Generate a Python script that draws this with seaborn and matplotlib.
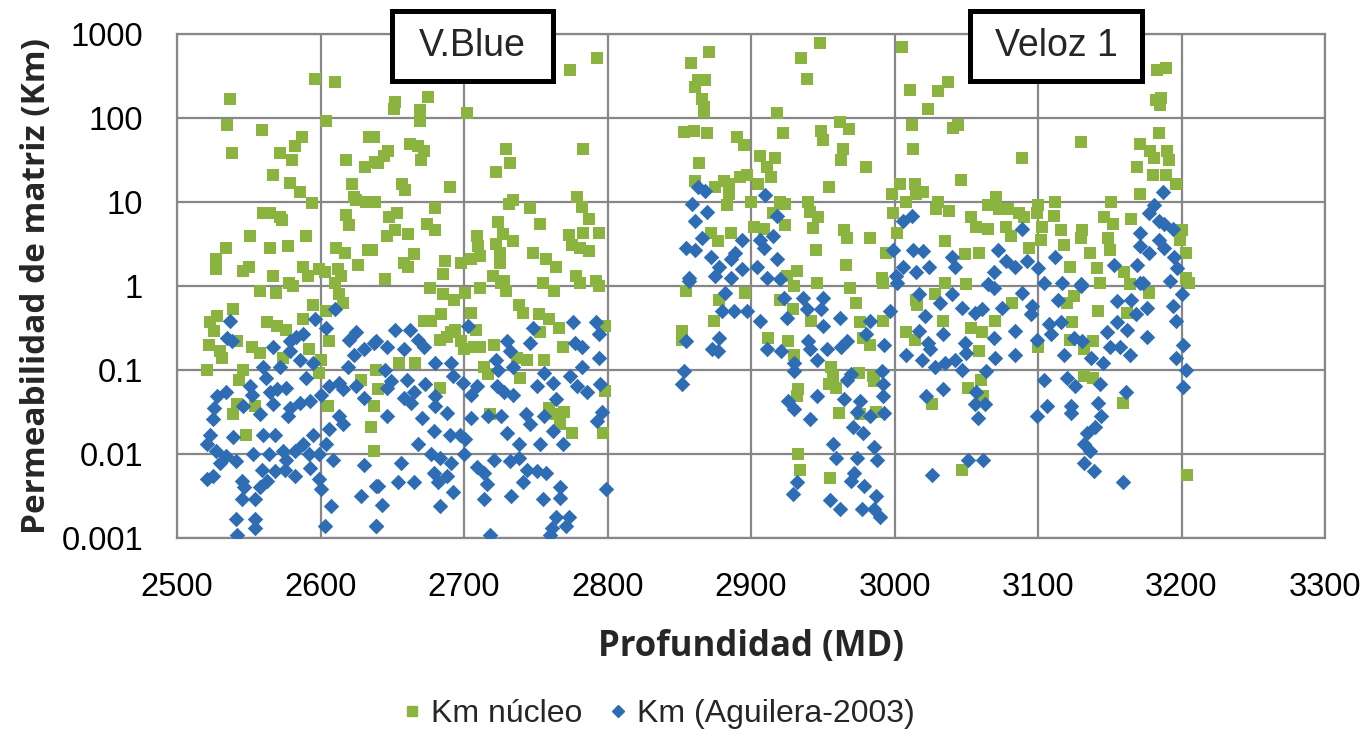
import matplotlib
matplotlib.use('Agg')
import matplotlib.pyplot as plt
import seaborn as sns
import pandas as pd
from matplotlib.patches import Rectangle
from matplotlib.lines import Line2D

# Km núcleo (profundidad MD, Km)
nucleo_vblue_alto = [
    (2596, 288), (2610, 268), (2537, 170), (2535, 82), (2538, 38), (2559, 72), (2604, 93), (2587, 60),
    (2582, 46), (2572, 38), (2580, 32), (2567, 21), (2579, 17), (2586, 13), (2594, 9.8), (2618, 32),
    (2634, 60), (2631, 26), (2638, 30), (2622, 16.6), (2623, 11.5), (2625, 10.5), (2632, 10), (2560, 7.4),
    (2565, 7.3), (2572, 6.6), (2573, 6.1), (2618, 7.0), (2620, 5.3), (2551, 3.9), (2534, 2.8), (2527, 2.1),
    (2527, 1.6), (2565, 2.8), (2577, 3.0), (2590, 3.9), (2611, 2.8), (2617, 2.5), (2633, 2.7), (2626, 1.8),
    (2546, 1.5), (2550, 1.7), (2567, 1.3), (2588, 1.7), (2591, 1.3), (2599, 1.6), (2603, 1.45), (2612, 1.6),
    (2614, 1.3), (2578, 1.1),
    (2793, 513), (2774, 373), (2702, 115), (2675, 178), (2652, 155), (2651, 129), (2669, 123), (2669, 93),
    (2637, 60), (2662, 49), (2668, 46), (2672, 40), (2670, 32), (2647, 40), (2644, 35), (2640, 29),
    (2729, 43), (2732, 29), (2722, 23), (2783, 43), (2657, 16.6), (2659, 14), (2690, 15), (2638, 10),
    (2680, 8.6), (2648, 6.6), (2653, 7.3), (2652, 4.6), (2646, 3.9), (2661, 4.2), (2674, 5.5), (2680, 4.6),
    (2636, 2.7), (2665, 2.4), (2658, 1.9), (2661, 1.7), (2687, 2.0), (2685, 1.4), (2645, 1.2), (2734, 10.5),
    (2731, 9.5), (2746, 8.5), (2753, 5.5), (2724, 5.8), (2727, 4.2), (2709, 3.9), (2710, 3.0), (2722, 3.2),
    (2734, 3.4), (2725, 2.5), (2705, 2.1), (2698, 1.9), (2711, 2.3), (2725, 1.9), (2748, 2.5), (2757, 2.1),
    (2764, 1.7), (2779, 11.5), (2782, 8.7), (2787, 6.3), (2773, 4.1), (2783, 4.3), (2794, 4.3), (2775, 3.1),
    (2781, 2.8), (2787, 2.6), (2778, 1.3), (2792, 1.15), (2720, 1.3), (2728, 1.15), (2755, 1.1),
]
nucleo_vblue_bajo = [
    (2558, 0.87), (2569, 0.83), (2581, 1.0), (2610, 1.1), (2613, 0.80), (2616, 0.63), (2595, 0.60),
    (2604, 0.50), (2588, 0.41), (2576, 0.30), (2563, 0.37), (2570, 0.33), (2539, 0.53), (2528, 0.44),
    (2523, 0.37), (2526, 0.29), (2522, 0.20), (2530, 0.17), (2531, 0.14), (2521, 0.10), (2542, 0.22),
    (2552, 0.19), (2558, 0.16), (2574, 0.14), (2592, 0.18), (2600, 0.13), (2599, 0.093), (2606, 0.22),
    (2546, 0.10), (2543, 0.077), (2542, 0.039), (2539, 0.030), (2554, 0.037), (2548, 0.017), (2605, 0.037),
    (2628, 0.077), (2639, 0.10), (2637, 0.037), (2635, 0.021), (2637, 0.011),
    (2676, 0.96), (2685, 0.80), (2693, 0.69), (2701, 0.83), (2711, 0.96), (2726, 1.1), (2729, 0.87),
    (2763, 0.87), (2781, 1.1), (2794, 1.0), (2738, 0.60), (2741, 0.48), (2752, 0.46), (2759, 0.40),
    (2766, 0.32), (2798, 0.33), (2705, 0.48), (2684, 0.46), (2672, 0.38), (2677, 0.38), (2694, 0.30),
    (2691, 0.28), (2708, 0.30), (2683, 0.23), (2688, 0.25), (2698, 0.22), (2700, 0.18), (2707, 0.19),
    (2711, 0.19), (2721, 0.20), (2753, 0.28), (2769, 0.19), (2737, 0.14), (2744, 0.13), (2756, 0.13),
    (2739, 0.081), (2714, 0.11), (2717, 0.089), (2666, 0.12), (2655, 0.12), (2640, 0.059), (2683, 0.061),
    (2759, 0.035), (2764, 0.030), (2770, 0.032), (2767, 0.023), (2775, 0.018), (2797, 0.018),
    (2798, 0.056), (2718, 0.030),
]
nucleo_veloz_alto = [
    (2871, 617), (2858, 455), (2863, 282), (2868, 282), (2861, 235), (2866, 170), (2867, 135), (2867, 117),
    (2948, 790), (2935, 515), (2939, 288), (3005, 705), (3011, 218), (2918, 115), (2853, 68), (2860, 71),
    (2869, 66), (2890, 60), (2895, 48), (2922, 66), (2949, 71), (2950, 55), (2962, 89), (2968, 74),
    (2964, 43), (2963, 32), (2980, 26), (3012, 82), (3013, 43), (2864, 29), (2906, 35), (2917, 33),
    (2911, 26), (2914, 20), (2861, 18), (2881, 18), (2885, 16.6), (2892, 20), (2897, 21), (2905, 16.6),
    (2954, 15), (2875, 15), (2885, 12.5), (3004, 16.6), (3014, 16.6), (2998, 12.5), (3008, 10), (3015, 12.5),
    (2900, 10), (2883, 9.1), (2920, 10), (2924, 9.5), (2940, 10), (2941, 7.6), (2947, 6.6), (2943, 4.9),
    (2915, 7.3), (2924, 5.3), (2902, 5.0), (2909, 4.8), (2886, 4.3), (2872, 4.3), (2877, 3.4), (2965, 4.6),
    (2967, 3.7), (2983, 3.7), (2945, 2.7), (2999, 7.3), (3002, 4.3), (2994, 2.5), (2966, 1.8), (2932, 1.5),
    (2991, 1.26), (2946, 1.1), (2925, 1.3),
    (3183, 373), (3189, 398), (3182, 166), (3186, 175), (3185, 141), (3037, 268), (3030, 210), (3023, 129),
    (3041, 77), (3044, 82), (3130, 52), (3089, 33), (3046, 18.5), (3020, 13), (3184, 66), (3171, 49),
    (3178, 40), (3181, 33), (3190, 41), (3191, 32), (3169, 26), (3180, 21), (3189, 21), (3196, 16.6),
    (3171, 12.5), (3151, 10), (3112, 10), (3071, 11.5), (3030, 10), (3029, 8.3), (3038, 7.9), (3065, 9.1),
    (3073, 8.3), (3079, 8.3), (3100, 9.1), (3099, 7.3), (3111, 6.9), (3087, 7.3), (3090, 6.6), (3053, 6.6),
    (3057, 5.0), (3065, 4.8), (3078, 5.0), (3103, 5.0), (3081, 3.9), (3116, 4.6), (3131, 4.6), (3130, 3.7),
    (3146, 6.6), (3152, 5.5), (3149, 3.7), (3165, 6.3), (3200, 4.6), (3199, 3.5), (3035, 3.4), (3049, 2.4),
    (3059, 2.5), (3094, 2.8), (3102, 3.5), (3118, 3.1), (3136, 2.5), (3150, 2.7), (3203, 2.5), (3122, 1.7),
    (3141, 1.65), (3160, 1.45), (3203, 1.26),
]
nucleo_veloz_bajo = [
    (2855, 0.87), (2878, 0.69), (2874, 0.38), (2852, 0.29), (2852, 0.23), (2896, 0.83), (2920, 0.69),
    (2930, 1.0), (2969, 0.96), (2973, 0.62), (2929, 0.53), (2942, 0.38), (2912, 0.24), (2926, 0.22),
    (2930, 0.15), (2956, 0.11), (2957, 0.085), (2954, 0.068), (2959, 0.061), (2933, 0.059), (2932, 0.049),
    (2975, 0.093), (2985, 0.085), (2986, 0.074), (2976, 0.37), (2978, 0.24), (2983, 0.20), (2992, 0.38),
    (3008, 0.28), (3015, 0.69), (2961, 0.031), (2987, 0.032), (2976, 0.030), (2933, 0.010), (2934, 0.0065),
    (2955, 0.0052), (2992, 1.1),
    (3026, 0.039), (3051, 0.061), (3060, 0.077), (3062, 0.049), (3047, 0.0065), (3132, 0.085), (3138, 0.081),
    (3159, 0.041), (3204, 0.0057), (3100, 0.19), (3122, 0.23), (3132, 0.18), (3138, 0.22), (3142, 0.50),
    (3124, 0.37), (3120, 0.63), (3125, 0.76), (3070, 0.38), (3082, 0.63), (3061, 0.28), (3059, 0.17),
    (3053, 0.32), (3034, 0.38), (3016, 0.60), (3028, 0.80), (3014, 0.23), (3143, 1.1), (3164, 1.05),
    (3177, 0.83), (3162, 0.48), (3205, 1.1), (3035, 1.1), (3050, 1.05),
]

# Km (Aguilera-2003)
aguilera_vblue = [
    (2537, 0.38), (2535, 0.24), (2538, 0.22), (2567, 0.19), (2579, 0.22), (2583, 0.25), (2588, 0.27),
    (2596, 0.40), (2604, 0.32), (2610, 0.53), (2579, 0.17), (2586, 0.13), (2595, 0.12), (2572, 0.11),
    (2560, 0.11), (2562, 0.081), (2590, 0.081), (2620, 0.23), (2625, 0.28), (2630, 0.18), (2637, 0.21),
    (2623, 0.15), (2619, 0.11), (2528, 0.049), (2534, 0.054), (2526, 0.035), (2525, 0.026), (2523, 0.017),
    (2521, 0.013), (2527, 0.011), (2534, 0.0094), (2530, 0.0078), (2521, 0.0050), (2525, 0.0055),
    (2541, 0.0082), (2551, 0.065), (2552, 0.051), (2546, 0.037), (2558, 0.030), (2565, 0.054), (2570, 0.059),
    (2576, 0.061), (2567, 0.039), (2579, 0.035), (2577, 0.028), (2586, 0.041), (2593, 0.043), (2600, 0.051),
    (2606, 0.065), (2613, 0.071), (2616, 0.059), (2625, 0.065), (2630, 0.047), (2613, 0.028), (2616, 0.023),
    (2606, 0.020), (2595, 0.017), (2539, 0.016), (2560, 0.017), (2568, 0.017), (2553, 0.010), (2564, 0.010),
    (2574, 0.011), (2576, 0.0086), (2582, 0.011), (2588, 0.013), (2592, 0.010), (2599, 0.010), (2604, 0.013),
    (2609, 0.0086), (2575, 0.0065), (2582, 0.0055), (2593, 0.0068), (2568, 0.0062), (2559, 0.0065),
    (2563, 0.0048), (2558, 0.0040), (2545, 0.0048), (2547, 0.0040), (2545, 0.0029), (2554, 0.0029),
    (2541, 0.0017), (2542, 0.0011), (2554, 0.0017), (2554, 0.0013), (2599, 0.0050), (2600, 0.0038),
    (2607, 0.0024), (2603, 0.0014), (2630, 0.0075), (2628, 0.0032), (2639, 0.0042), (2639, 0.0014),
    (2652, 0.30), (2662, 0.30), (2639, 0.22), (2646, 0.19), (2658, 0.18), (2668, 0.23), (2672, 0.19),
    (2680, 0.12), (2691, 0.12), (2703, 0.33), (2645, 0.10), (2649, 0.074), (2646, 0.061), (2660, 0.077),
    (2658, 0.047), (2663, 0.041), (2665, 0.054), (2673, 0.068), (2680, 0.049), (2692, 0.085), (2699, 0.071),
    (2709, 0.065), (2705, 0.051), (2722, 0.13), (2724, 0.10), (2730, 0.22), (2732, 0.17), (2734, 0.11),
    (2723, 0.065), (2728, 0.054), (2734, 0.051), (2748, 0.32), (2746, 0.21), (2751, 0.065), (2756, 0.093),
    (2762, 0.071), (2764, 0.045), (2776, 0.37), (2792, 0.37), (2794, 0.27), (2777, 0.21), (2782, 0.19),
    (2794, 0.14), (2782, 0.11), (2774, 0.085), (2779, 0.065), (2786, 0.054), (2795, 0.068), (2796, 0.032),
    (2793, 0.025), (2646, 0.028), (2671, 0.027), (2680, 0.037), (2688, 0.031), (2679, 0.019), (2668, 0.013),
    (2690, 0.017), (2697, 0.017), (2701, 0.015), (2705, 0.027), (2717, 0.028), (2726, 0.028), (2730, 0.018),
    (2738, 0.013), (2743, 0.030), (2746, 0.023), (2756, 0.028), (2762, 0.019), (2753, 0.013), (2769, 0.013),
    (2677, 0.010), (2683, 0.0090), (2691, 0.0078), (2700, 0.010), (2709, 0.0071), (2714, 0.0059),
    (2721, 0.0086), (2732, 0.0082), (2738, 0.0090), (2744, 0.0065), (2751, 0.0062), (2757, 0.0059),
    (2656, 0.0078), (2640, 0.0042), (2654, 0.0046), (2665, 0.0046), (2679, 0.0059), (2682, 0.0046),
    (2688, 0.0055), (2692, 0.0035), (2683, 0.0024), (2643, 0.0025), (2716, 0.0044), (2714, 0.0029),
    (2733, 0.0032), (2741, 0.0046), (2755, 0.0029), (2767, 0.0040), (2767, 0.0030), (2764, 0.0018),
    (2773, 0.0018), (2761, 0.0013), (2760, 0.0011), (2771, 0.0014), (2718, 0.0011), (2639, 0.0014),
    (2799, 0.0038),
]
aguilera_veloz = [
    (2863, 15), (2868, 13.7), (2859, 9.5), (2869, 7.6), (2861, 6.0), (2910, 12), (2918, 6.9), (2866, 3.7),
    (2855, 2.8), (2861, 2.7), (2872, 2.2), (2894, 3.5), (2889, 2.5), (2886, 2.1), (2906, 3.5), (2915, 3.9),
    (2909, 2.8), (2918, 2.1), (2904, 1.7), (2894, 1.6), (2878, 1.7), (2857, 1.26), (2875, 1.3), (2886, 1.26),
    (2911, 1.26), (2920, 1.2), (2999, 2.7), (3006, 6.0), (3012, 6.9), (3013, 2.7), (3006, 1.7), (3001, 1.3),
    (3015, 1.45),
    (3187, 13), (3181, 9.1), (3177, 7.3), (3184, 6.0), (3188, 5.5), (3194, 4.8), (3089, 4.8), (3171, 4.3),
    (3171, 3.0), (3184, 3.5), (3188, 2.8), (3195, 2.2), (3197, 1.65), (3177, 2.5), (3153, 1.8), (3169, 1.8),
    (3040, 2.2), (3020, 2.6), (3024, 1.7), (3042, 1.7), (3072, 2.7), (3078, 2.0), (3084, 1.7), (3092, 2.0),
    (3100, 1.65), (3112, 2.2), (3069, 1.45), (3117, 1.1), (3130, 1.05), (3171, 1.1), (3192, 1.15), (3065, 1.05),
    (2857, 1.15), (2880, 0.50), (2888, 0.50), (2897, 0.50), (2882, 0.83), (2906, 0.38), (2925, 0.42),
    (2923, 0.72), (2936, 0.72), (2950, 0.72), (2949, 0.53), (2962, 0.42), (2939, 0.53), (2950, 0.33),
    (2983, 0.38), (2980, 0.27), (2997, 0.50), (3002, 1.1), (2855, 0.22), (2878, 0.24), (2873, 0.18),
    (2877, 0.17), (2911, 0.18), (2921, 0.17), (2940, 0.22), (2941, 0.18), (2953, 0.18), (2946, 0.13),
    (2963, 0.19), (2967, 0.22), (2993, 0.20), (3008, 0.15), (2930, 0.12), (2930, 0.098), (2853, 0.098),
    (2852, 0.068), (2967, 0.077), (2970, 0.089), (2991, 0.098), (2992, 0.068), (2992, 0.049), (2946, 0.049),
    (2965, 0.045), (2976, 0.043), (2926, 0.043), (2930, 0.034), (2974, 0.032), (2993, 0.031), (2941, 0.026),
    (2983, 0.028), (2971, 0.021), (2978, 0.018), (2957, 0.013), (2959, 0.0090), (2974, 0.0090), (2986, 0.012),
    (2988, 0.0086), (2972, 0.0059), (2970, 0.0048), (2979, 0.0042), (2987, 0.0032), (2932, 0.0046),
    (2929, 0.0033), (2955, 0.0028), (2962, 0.0022), (2977, 0.0022), (2986, 0.0022), (2990, 0.0018),
    (3017, 0.80), (3032, 0.63), (3040, 0.80), (3047, 0.55), (3021, 0.44), (3017, 0.29), (3023, 0.21),
    (3025, 0.18), (3019, 0.13), (3028, 0.11), (3035, 0.12), (3042, 0.13), (3050, 0.16), (3049, 0.21),
    (3034, 0.27), (3056, 0.48), (3061, 0.53), (3069, 0.24), (3070, 0.14), (3084, 0.15), (3084, 0.29),
    (3075, 0.55), (3069, 0.96), (3089, 0.83), (3096, 0.58), (3095, 0.46), (3104, 1.1), (3114, 0.69),
    (3108, 0.35), (3116, 0.37), (3109, 0.27), (3099, 0.23), (3130, 1.0), (3118, 0.15), (3125, 0.24),
    (3131, 0.22), (3137, 0.14), (3145, 0.12), (3148, 0.28), (3150, 0.19), (3155, 0.37), (3155, 0.66),
    (3162, 0.30), (3157, 0.19), (3164, 0.15), (3168, 0.46), (3176, 0.55), (3176, 0.25), (3165, 0.69),
    (3194, 0.58), (3196, 0.38), (3200, 0.80), (3201, 0.20), (3196, 0.14), (3203, 0.10), (3201, 0.062),
    (3173, 1.1), (3047, 0.10), (3064, 0.098), (3104, 0.077), (3120, 0.081), (3126, 0.065), (3143, 0.068),
    (3022, 0.049), (3034, 0.059), (3057, 0.054), (3056, 0.039), (3063, 0.039), (3058, 0.027), (3106, 0.037),
    (3099, 0.028), (3123, 0.037), (3123, 0.031), (3142, 0.041), (3144, 0.028), (3161, 0.054), (3140, 0.021),
    (3134, 0.018), (3132, 0.013), (3136, 0.011), (3132, 0.0078), (3139, 0.0062), (3159, 0.0046),
    (3051, 0.0086), (3062, 0.0086), (3026, 0.0057),
]

x_ticks = [2500, 2600, 2700, 2800, 2900, 3000, 3100, 3200, 3300]
y_ticks = [0.001, 0.01, 0.1, 1, 10, 100, 1000]
y_labels = ["0.001", "0.01", "0.1", "1", "10", "100", "1000"]

VERDE = "#8AB43F"
AZUL = "#2E6DB4"
GRIS = "#878787"

sns.set_style("white")
plt.rcParams["font.family"] = ["Liberation Sans", "DejaVu Sans"]

nucleo = pd.DataFrame(nucleo_vblue_alto + nucleo_vblue_bajo + nucleo_veloz_alto + nucleo_veloz_bajo,
                      columns=["profundidad", "km"])
aguilera = pd.DataFrame(aguilera_vblue + aguilera_veloz, columns=["profundidad", "km"])

fig = plt.figure(figsize=(13.65, 7.3), dpi=100)
ax = fig.add_axes([0.1297, 0.2630, 0.8410, 0.6904])

sns.scatterplot(data=nucleo, x="profundidad", y="km", marker="s", color=VERDE,
                s=72, linewidth=0, ax=ax, zorder=3)
sns.scatterplot(data=aguilera, x="profundidad", y="km", marker="D", color=AZUL,
                s=62, linewidth=0, ax=ax, zorder=4)

ax.set_yscale("log")
ax.set_xlim(2500, 3300)
ax.set_ylim(0.001, 1000)
ax.set_xticks(x_ticks)
ax.set_xticklabels([str(t) for t in x_ticks])
ax.set_yticks(y_ticks)
ax.set_yticklabels(y_labels)
ax.minorticks_off()
ax.grid(True, color=GRIS, linewidth=1.6)
ax.set_axisbelow(True)
for sp in ax.spines.values():
    sp.set_color(GRIS)
    sp.set_linewidth(1.6)
ax.tick_params(axis="both", length=7.5, width=1.6, color=GRIS, pad=17,
               labelsize=23.5, labelcolor="black", direction="out")

ax.set_xlabel("Profundidad (MD)", fontsize=25, fontweight="bold", family="Open Sans", labelpad=19)
ax.set_ylabel("Permeabilidad de matriz (Km)", fontsize=24, fontweight="bold", family="Open Sans")
ax.yaxis.set_label_coords(-0.108, 0.5)

# cajas con nombre de pozo
for x0, x1, nombre in [(392, 553, "V.Blue"), (970, 1142, "Veloz 1")]:
    fig.patches.append(Rectangle((x0 / 1365, 1 - 81 / 730), (x1 - x0) / 1365, 70 / 730,
                                 transform=fig.transFigure, facecolor="white",
                                 edgecolor="black", linewidth=3.6, zorder=10))
    fig.text((x0 + x1) / 2 / 1365, 1 - 46 / 730, nombre, fontsize=27, ha="center", va="center", zorder=11)

handles = [
    Line2D([], [], marker="s", color=VERDE, linestyle="", markersize=7),
    Line2D([], [], marker="D", color=AZUL, linestyle="", markersize=6),
]
fig.legend(handles, ["Km núcleo", "Km (Aguilera-2003)"], loc="center", ncol=2,
           bbox_to_anchor=(0.48, 0.022), frameon=False, fontsize=23,
           handletextpad=0.1, columnspacing=0.6, handlelength=1.0)

fig.savefig("out.png", dpi=100)
plt.close(fig)
